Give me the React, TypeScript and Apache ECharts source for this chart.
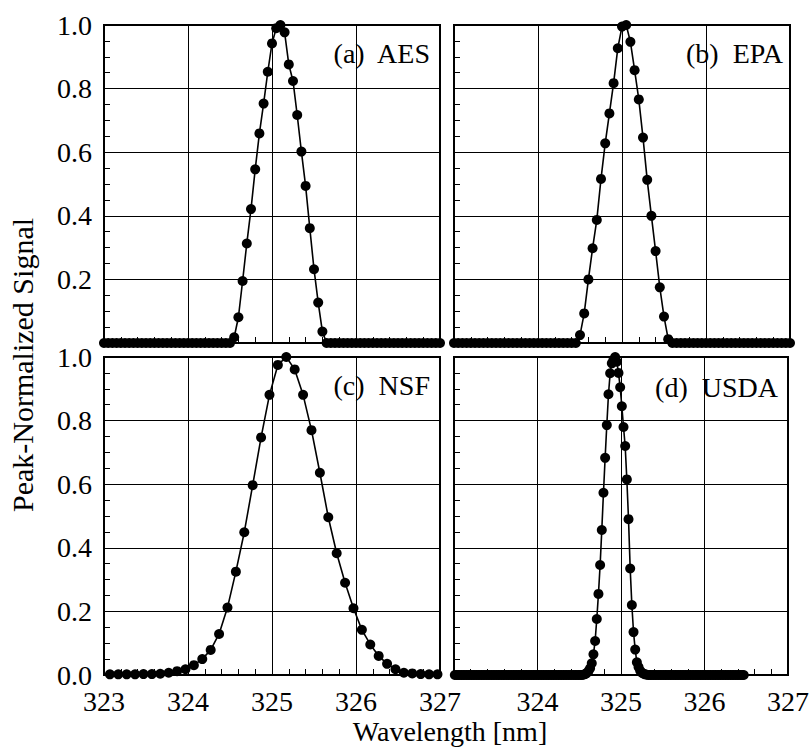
import { useEffect, useRef } from "react";
import * as echarts from "echarts";

const FONT = "'Liberation Serif', 'Times New Roman', Times, serif";

// Wavelength grid (nm) shared by the AES and EPA scans
const wavelengthAE = [
  323.0, 323.05, 323.1, 323.15, 323.2, 323.25, 323.3, 323.35, 323.4, 323.45,
  323.5, 323.55, 323.6, 323.65, 323.7, 323.75, 323.8, 323.85, 323.9, 323.95,
  324.0, 324.05, 324.1, 324.15, 324.2, 324.25, 324.3, 324.35, 324.4, 324.45,
  324.5, 324.55, 324.6, 324.65, 324.7, 324.75, 324.8, 324.85, 324.9, 324.95,
  325.0, 325.05, 325.1, 325.15, 325.2, 325.25, 325.3, 325.35, 325.4, 325.45,
  325.5, 325.55, 325.6, 325.65, 325.7, 325.75, 325.8, 325.85, 325.9, 325.95,
  326.0, 326.05, 326.1, 326.15, 326.2, 326.25, 326.3, 326.35, 326.4, 326.45,
  326.5, 326.55, 326.6, 326.65, 326.7, 326.75, 326.8, 326.85, 326.9, 326.95,
  327.0,
];

const aesSignal = [
  0, 0, 0, 0, 0, 0, 0, 0, 0, 0,
  0, 0, 0, 0, 0, 0, 0, 0, 0, 0,
  0, 0, 0, 0, 0, 0, 0, 0, 0, 0,
  0, 0.018, 0.081, 0.195, 0.313, 0.421, 0.546, 0.659, 0.753, 0.853,
  0.942, 0.99, 1.0, 0.977, 0.876, 0.824, 0.717, 0.602, 0.494, 0.361,
  0.232, 0.127, 0.036, 0, 0, 0, 0, 0, 0, 0,
  0, 0, 0, 0, 0, 0, 0, 0, 0, 0,
  0, 0, 0, 0, 0, 0, 0, 0, 0, 0,
  0,
];

const epaSignal = [
  0, 0, 0, 0, 0, 0, 0, 0, 0, 0,
  0, 0, 0, 0, 0, 0, 0, 0, 0, 0,
  0, 0, 0, 0, 0, 0, 0, 0, 0, 0,
  0.025, 0.093, 0.2, 0.298, 0.387, 0.516, 0.628, 0.722, 0.817, 0.927,
  0.995, 1.0, 0.947, 0.858, 0.766, 0.646, 0.513, 0.4, 0.289, 0.175,
  0.083, 0.012, 0, 0, 0, 0, 0, 0, 0, 0,
  0, 0, 0, 0, 0, 0, 0, 0, 0, 0,
  0, 0, 0, 0, 0, 0, 0, 0, 0, 0,
  0,
];

const nsfWavelength = [
  323.07, 323.17, 323.27, 323.37, 323.47, 323.57, 323.67, 323.77, 323.87, 323.97,
  324.07, 324.17, 324.27, 324.37, 324.47, 324.57, 324.67, 324.77, 324.87, 324.97,
  325.07, 325.17, 325.27, 325.37, 325.47, 325.57, 325.67, 325.77, 325.87, 325.97,
  326.07, 326.17, 326.27, 326.37, 326.47, 326.57, 326.67, 326.77, 326.87, 326.97,
];

const nsfSignal = [
  0.002, 0.002, 0.002, 0.002, 0.003, 0.003, 0.004, 0.007, 0.012, 0.018,
  0.031, 0.05, 0.079, 0.129, 0.212, 0.325, 0.449, 0.597, 0.747, 0.881,
  0.975, 1.0, 0.961, 0.881, 0.77, 0.636, 0.496, 0.383, 0.29, 0.21,
  0.142, 0.096, 0.06, 0.035, 0.018, 0.007, 0.005, 0.003, 0.002, 0.002,
];

const usdaWavelength = [
  323.01, 323.03, 323.05, 323.07, 323.09, 323.11, 323.13, 323.15, 323.17, 323.19,
  323.21, 323.23, 323.25, 323.27, 323.29, 323.31, 323.33, 323.35, 323.37, 323.39,
  323.41, 323.43, 323.45, 323.47, 323.49, 323.51, 323.53, 323.55, 323.57, 323.59,
  323.61, 323.63, 323.65, 323.67, 323.69, 323.71, 323.73, 323.75, 323.77, 323.79,
  323.81, 323.83, 323.85, 323.87, 323.89, 323.91, 323.93, 323.95, 323.97, 323.99,
  324.01, 324.03, 324.05, 324.07, 324.09, 324.11, 324.13, 324.15, 324.17, 324.19,
  324.21, 324.23, 324.25, 324.27, 324.29, 324.31, 324.33, 324.35, 324.37, 324.39,
  324.41, 324.43, 324.45, 324.47, 324.49, 324.51, 324.53, 324.55, 324.57, 324.59,
  324.61, 324.63, 324.65, 324.67, 324.69, 324.71, 324.73, 324.75, 324.77, 324.79,
  324.81, 324.83, 324.85, 324.87, 324.89, 324.91, 324.93, 324.95, 324.97, 324.99,
  325.01, 325.03, 325.05, 325.07, 325.09, 325.11, 325.13, 325.15, 325.17, 325.19,
  325.21, 325.23, 325.25, 325.27, 325.29, 325.31, 325.33, 325.35, 325.37, 325.39,
  325.41, 325.43, 325.45, 325.47, 325.49, 325.51, 325.53, 325.55, 325.57, 325.59,
  325.61, 325.63, 325.65, 325.67, 325.69, 325.71, 325.73, 325.75, 325.77, 325.79,
  325.81, 325.83, 325.85, 325.87, 325.89, 325.91, 325.93, 325.95, 325.97, 325.99,
  326.01, 326.03, 326.05, 326.07, 326.09, 326.11, 326.13, 326.15, 326.17, 326.19,
  326.21, 326.23, 326.25, 326.27, 326.29, 326.31, 326.33, 326.35, 326.37, 326.39,
  326.41, 326.43, 326.45, 326.47,
];

const usdaSignal = [
  0, 0, 0, 0, 0, 0, 0, 0, 0, 0,
  0, 0, 0, 0, 0, 0, 0, 0, 0, 0,
  0, 0, 0, 0, 0, 0, 0, 0, 0, 0,
  0, 0, 0, 0, 0, 0, 0, 0, 0, 0,
  0, 0, 0, 0, 0, 0, 0, 0, 0, 0,
  0, 0, 0, 0, 0, 0, 0, 0, 0, 0,
  0, 0, 0, 0, 0, 0, 0, 0, 0, 0,
  0, 0, 0, 0, 0, 0, 0, 0.001, 0.003, 0.006,
  0.012, 0.021, 0.037, 0.065, 0.107, 0.176, 0.255, 0.346, 0.456, 0.573,
  0.683, 0.786, 0.883, 0.949, 0.98, 0.991, 1.0, 0.985, 0.95, 0.905,
  0.845, 0.78, 0.72, 0.615, 0.49, 0.335, 0.22, 0.135, 0.08, 0.04,
  0.025, 0.013, 0.007, 0.004, 0.002, 0.001, 0, 0, 0, 0,
  0, 0, 0, 0, 0, 0, 0, 0, 0, 0,
  0, 0, 0, 0, 0, 0, 0, 0, 0, 0,
  0, 0, 0, 0, 0, 0, 0, 0, 0, 0,
  0, 0, 0, 0, 0, 0, 0, 0, 0, 0,
  0, 0, 0, 0, 0, 0, 0, 0, 0, 0,
  0, 0, 0, 0,
];

const panelLabels = ["(a)  AES", "(b)  EPA", "(c)  NSF", "(d)  USDA"];
const xAxisTitle = "Wavelength [nm]";
const yAxisTitle = "Peak-Normalized Signal";

const panels = [
  { xs: wavelengthAE, ys: aesSignal, left: 104, top: 25, xLabels: false, firstX: true, yLabels: true, zeroLabel: false, lx: 430, ly: 53 },
  { xs: wavelengthAE, ys: epaSignal, left: 454, top: 25, xLabels: false, firstX: true, yLabels: false, zeroLabel: false, lx: 783, ly: 53 },
  { xs: nsfWavelength, ys: nsfSignal, left: 104, top: 357, xLabels: true, firstX: true, yLabels: true, zeroLabel: true, lx: 430, ly: 385 },
  { xs: usdaWavelength, ys: usdaSignal, left: 454, top: 357, xLabels: true, firstX: false, yLabels: false, zeroLabel: true, lx: 778, ly: 387 },
];

export default function App() {
  const ref = useRef<HTMLDivElement>(null);
  useEffect(() => {
    if (!ref.current) return;
    const chart = echarts.init(ref.current, undefined, { renderer: "svg" });
    const black = "#000";
    const option: any = {
      animation: false,
      backgroundColor: "#fff",
      textStyle: { fontFamily: FONT },
      grid: panels.map((p) => ({
        left: p.left,
        top: p.top,
        width: 336,
        height: 318,
        show: true,
        borderColor: black,
        borderWidth: 2,
        backgroundColor: "transparent",
      })),
      xAxis: panels.map((p, i) => ({
        type: "value",
        gridIndex: i,
        min: 323,
        max: 327,
        interval: 1,
        axisLine: { show: true, onZero: false, lineStyle: { color: black, width: 2 } },
        axisTick: { show: true, inside: true, length: 6, lineStyle: { color: black, width: 1 } },
        minorTick: { show: true, splitNumber: 5, length: 6, lineStyle: { color: black, width: 1 } },
        splitLine: { show: true, lineStyle: { color: black, width: 1 } },
        axisLabel: {
          show: p.xLabels,
          showMinLabel: p.firstX,
          margin: 12,
          color: black,
          fontFamily: FONT,
          fontSize: 28,
        },
      })),
      yAxis: panels.map((p, i) => ({
        type: "value",
        gridIndex: i,
        min: 0,
        max: 1,
        interval: 0.2,
        axisLine: { show: true, onZero: false, lineStyle: { color: black, width: 2 } },
        axisTick: { show: true, inside: true, length: 6, lineStyle: { color: black, width: 1 } },
        minorTick: { show: true, splitNumber: 4, length: 6, lineStyle: { color: black, width: 1 } },
        splitLine: { show: true, lineStyle: { color: black, width: 1 } },
        axisLabel: {
          show: p.yLabels,
          margin: 12,
          color: black,
          fontFamily: FONT,
          fontSize: 28,
          formatter: (v: number) => (!p.zeroLabel && Math.abs(v) < 1e-9 ? "" : v.toFixed(1)),
        },
      })),
      series: panels.map((p, i) => ({
        type: "line",
        xAxisIndex: i,
        yAxisIndex: i,
        data: p.xs.map((x, j) => [x, p.ys[j]]),
        symbol: "circle",
        symbolSize: 10,
        showSymbol: true,
        showAllSymbol: true,
        clip: false,
        itemStyle: { color: black, borderWidth: 0 },
        lineStyle: { color: black, width: 1.6 },
        emphasis: { disabled: true },
        z: 5,
      })),
      graphic: [
        ...panels.map((p, i) => ({
          type: "text",
          x: p.lx,
          y: p.ly,
          z: 10,
          style: {
            text: panelLabels[i],
            fill: black,
            font: `28px ${FONT}`,
            align: "right",
            verticalAlign: "middle",
          },
        })),
        {
          type: "text",
          x: 450,
          y: 731,
          style: {
            text: xAxisTitle,
            fill: black,
            font: `28px ${FONT}`,
            align: "center",
            verticalAlign: "middle",
          },
        },
        {
          type: "text",
          x: 22,
          y: 365,
          rotation: Math.PI / 2,
          style: {
            text: yAxisTitle,
            fill: black,
            font: `30px ${FONT}`,
            align: "center",
            verticalAlign: "middle",
          },
        },
      ],
    };
    chart.setOption(option);
    return () => chart.dispose();
  }, []);
  return (
    <div
      ref={ref}
      style={{ position: "absolute", left: 0, top: 0, width: 812, height: 747, background: "#fff" }}
    />
  );
}
